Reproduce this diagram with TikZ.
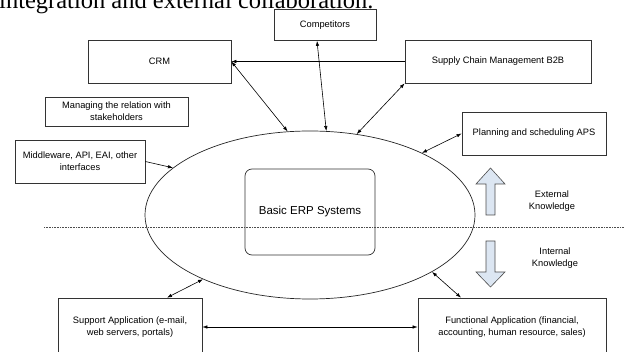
\documentclass[tikz,border=0pt]{standalone}
\usepackage{fontspec}
\setmainfont{Liberation Sans}
\newfontfamily\serifx{Liberation Serif}
\usetikzlibrary{arrows.meta,shapes.geometric}
\definecolor{bluefill}{RGB}{220,230,242}
\begin{document}
\begin{tikzpicture}[x=1pt,y=-1pt,
  box/.style={draw=black!80, line width=0.7pt, inner sep=0pt, align=center, font=\fontsize{9.3}{12}\selectfont},
  lnk/.style={line width=0.6pt, -{Latex[length=5pt,width=3.5pt]}},
  dlnk/.style={line width=0.6pt, {Latex[length=5pt,width=3.5pt]}-{Latex[length=5pt,width=3.5pt]}},
  blk/.style={draw=black!70, line width=0.6pt, fill=bluefill},
  lbl/.style={align=center, font=\fontsize{9.3}{12}\selectfont, inner sep=0pt}]
\useasboundingbox (0,0) rectangle (624,352);
\node[anchor=base west, inner sep=0pt, font=\serifx\fontsize{24.5}{28}\selectfont] (title) at (-1,9) {integration and external collaboration.};
% boxes
\node[box, minimum width=102, minimum height=31] (comp) at (325,25) {Competitors};
\node[box, minimum width=143, minimum height=43] (crm) at (159.5,61.5) {CRM};
\node[box, minimum width=186, minimum height=43] (scm) at (498,61.5) {Supply Chain Management B2B};
\node[box, minimum width=143, minimum height=29] (mng) at (116.5,111.5) {Managing the relation with\\stakeholders};
\node[box, minimum width=130, minimum height=43] (mid) at (80,161.5) {Middleware, API, EAI, other\\interfaces};
\node[box, minimum width=144, minimum height=43] (aps) at (534,133.5) {Planning and scheduling APS};
\node[draw=black!85, ellipse, minimum width=330, minimum height=168, inner sep=0pt, line width=0.7pt] (erp) at (310,215) {};
\node[box, rounded corners=7pt, minimum width=130, minimum height=86, font=\fontsize{11.5}{14}\selectfont] (core) at (310,212) {Basic ERP Systems};
\node[box, minimum width=144, minimum height=58] (sup) at (130,327) {Support Application (e-mail,\\web servers, portals)};
\node[box, minimum width=188, minimum height=58] (fun) at (512,327) {Functional Application (financial,\\accounting, human resource, sales)};
% dotted divider
\coordinate (dl) at (44,227);
\coordinate (dr) at (624,227);
\draw[dash pattern=on 0.8pt off 0.8pt, line width=0.8pt, black!70] (dl) -- (dr);
% block arrows
\draw[blk] (486,215) -- (486,184) -- (476,184) -- (490.5,168) -- (505,184) -- (495,184) -- (495,215) -- cycle;
\draw[blk] (486,241) -- (495,241) -- (495,272) -- (505,272) -- (490.5,287) -- (476,272) -- (486,272) -- cycle;
\node[lbl] (ext) at (552,201) {External\\Knowledge};
\node[lbl] (int) at (555,258) {Internal\\Knowledge};
% connectors
\draw[lnk] (scm.west) -- (crm.east);
\draw[dlnk] (crm.east) -- (erp.105);
\draw[dlnk] ([xshift=-8pt]comp.south) -- (erp.79);
\draw[dlnk] (scm.south west) -- (erp.60);
\draw[dlnk] (aps.west) -- (erp.29);
\draw[lnk] (mid.east) -- (erp.161);
\draw[dlnk] ([xshift=37pt]sup.north) -- (erp.211);
\draw[dlnk] ([xshift=-51pt]fun.north) -- (erp.335);
\draw[dlnk] (sup.east) -- (fun.west);
\end{tikzpicture}
\end{document}
